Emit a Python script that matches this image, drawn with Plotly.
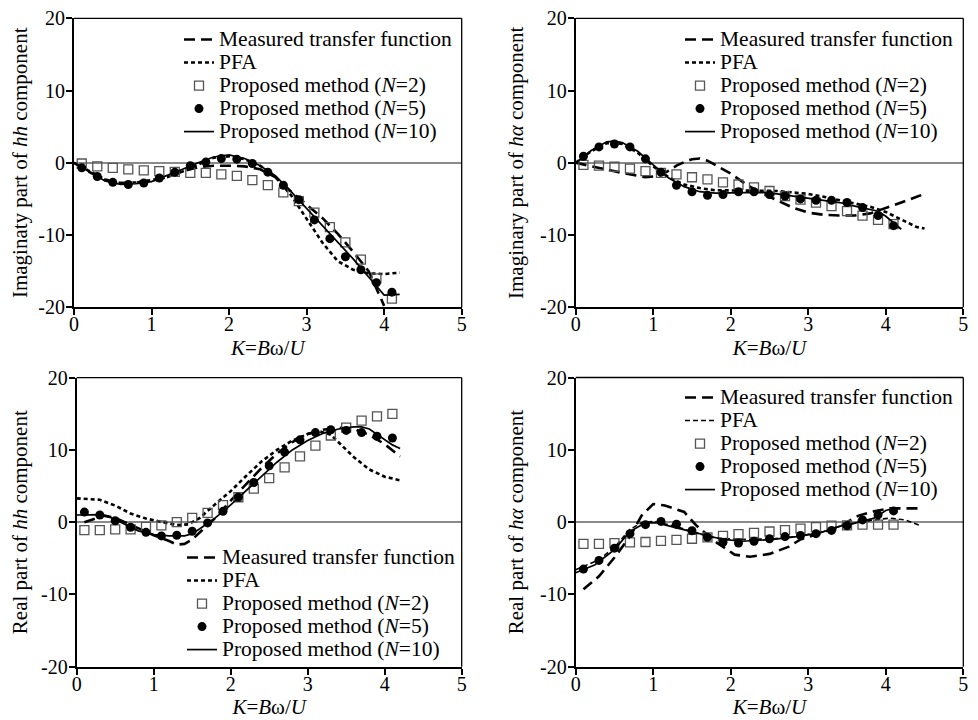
import plotly.graph_objects as go

FONT = "Liberation Serif"

# ---------------- data ----------------
k_pts = [0.1, 0.3, 0.5, 0.7, 0.9, 1.1, 1.3, 1.5, 1.7, 1.9, 2.1, 2.3, 2.5, 2.7, 2.9, 3.1, 3.3, 3.5, 3.7, 3.9, 4.1]

# Panel 1: imaginary part of hh
p1_meas_k = [0, 0.2, 0.4, 0.6, 0.8, 1.0, 1.2, 1.4, 1.6, 1.8, 2.0, 2.2, 2.4, 2.6, 2.8, 3.0, 3.2, 3.4, 3.6, 3.8, 4.0]
p1_meas = [0, -1.3, -2.4, -2.8, -2.7, -2.5, -2.0, -1.2, -0.6, -0.4, -0.4, -0.5, -0.9, -2.0, -4.0, -5.8, -7.6, -9.8, -12.3, -15.0, -19.8]
p1_pfa_k = [0, 0.2, 0.4, 0.6, 0.8, 1.0, 1.2, 1.4, 1.6, 1.8, 2.0, 2.2, 2.4, 2.6, 2.8, 3.0, 3.2, 3.4, 3.6, 3.8, 4.0, 4.2]
p1_pfa = [0, -1.2, -2.3, -2.8, -2.7, -2.4, -2.0, -1.2, -0.2, 0.7, 0.9, 0.5, -0.4, -2.0, -4.5, -7.8, -11.0, -13.6, -14.8, -15.3, -15.4, -15.2]
p1_n2 = [-0.1, -0.5, -0.7, -0.9, -1.05, -1.15, -1.25, -1.4, -1.4, -1.6, -1.8, -2.4, -3.1, -4.1, -5.3, -6.9, -8.9, -11.0, -13.4, -16.0, -18.8]
p1_n5 = [-0.7, -1.9, -2.7, -3.0, -2.8, -2.1, -1.3, -0.4, 0.1, 0.6, 0.5, -0.1, -1.3, -3.1, -5.1, -7.9, -10.5, -13.0, -14.8, -16.6, -17.9]
p1_n10_k = [0, 0.2, 0.4, 0.6, 0.8, 1.0, 1.2, 1.4, 1.6, 1.8, 2.0, 2.2, 2.4, 2.6, 2.8, 3.0, 3.2, 3.4, 3.6, 3.8, 4.0, 4.2]
p1_n10 = [0, -1.3, -2.5, -3.0, -2.9, -2.6, -1.8, -0.9, 0.0, 0.8, 1.1, 0.6, -0.4, -1.8, -4.0, -6.3, -8.7, -11.0, -13.3, -15.8, -18.3, -18.2]

# Panel 2: imaginary part of h-alpha
p2_meas_k = [0, 0.2, 0.4, 0.6, 0.8, 0.9, 1.0, 1.1, 1.2, 1.3, 1.4, 1.5, 1.6, 1.7, 1.8, 2.0, 2.2, 2.4, 2.6, 2.8, 3.0, 3.2, 3.4, 3.6, 3.8, 4.0, 4.2, 4.4, 4.5]
p2_meas = [0, -0.5, -1.0, -1.4, -1.8, -2.0, -1.9, -1.7, -1.1, -0.4, 0.1, 0.5, 0.6, 0.3, -0.3, -1.5, -3.0, -4.2, -5.2, -6.2, -6.9, -7.2, -7.3, -7.3, -7.0, -6.3, -5.5, -4.7, -4.3]
p2_pfa_k = [0, 0.2, 0.4, 0.5, 0.6, 0.8, 1.0, 1.2, 1.4, 1.6, 1.8, 2.0, 2.2, 2.4, 2.6, 2.8, 3.0, 3.2, 3.4, 3.6, 3.8, 4.0, 4.2, 4.4, 4.5]
p2_pfa = [0, 1.6, 2.7, 2.8, 2.6, 1.4, -0.5, -2.0, -3.0, -3.5, -3.8, -3.8, -3.8, -3.8, -3.9, -4.1, -4.3, -4.7, -5.2, -5.7, -6.1, -6.8, -7.9, -8.9, -9.1]
p2_n2 = [-0.3, -0.4, -0.55, -0.8, -1.15, -1.4, -1.6, -2.0, -2.3, -2.7, -3.0, -3.4, -3.9, -4.6, -5.1, -5.5, -6.0, -6.7, -7.3, -7.9, -8.5]
p2_n5 = [0.9, 2.2, 2.6, 2.2, 0.55, -1.3, -3.1, -4.0, -4.5, -4.4, -4.0, -4.0, -4.4, -4.6, -5.0, -5.2, -5.2, -5.5, -6.2, -7.3, -8.7]
p2_n10_k = [0, 0.2, 0.4, 0.5, 0.6, 0.8, 1.0, 1.2, 1.4, 1.6, 1.8, 2.0, 2.2, 2.4, 2.6, 2.8, 3.0, 3.2, 3.4, 3.6, 3.8, 3.9, 4.0, 4.1, 4.2]
p2_n10 = [0, 1.7, 2.9, 3.0, 2.8, 1.6, -0.3, -2.1, -3.3, -4.0, -4.2, -4.2, -4.1, -4.1, -4.3, -4.6, -4.8, -5.1, -5.5, -6.0, -6.4, -6.7, -7.4, -8.3, -9.2]

# Panel 3: real part of hh
p3_meas_k = [0.1, 0.2, 0.35, 0.5, 0.6, 0.8, 1.0, 1.2, 1.3, 1.4, 1.5, 1.6, 1.8, 2.0, 2.2, 2.4, 2.6, 2.8, 3.0, 3.2, 3.4, 3.6, 3.8, 4.0, 4.2]
p3_meas = [0.0, 0.4, 0.9, 0.6, 0.1, -0.9, -1.8, -2.6, -3.1, -3.0, -2.4, -1.4, 0.6, 3.0, 5.3, 7.5, 9.5, 11.1, 12.2, 12.8, 13.1, 12.9, 12.1, 10.8, 9.1]
p3_pfa_k = [0, 0.3, 0.5, 0.7, 0.9, 1.1, 1.3, 1.45, 1.6, 1.8, 2.0, 2.2, 2.4, 2.6, 2.8, 3.0, 3.15, 3.3, 3.45, 3.6, 3.8, 4.0, 4.2]
p3_pfa = [3.3, 3.1, 2.3, 1.2, 0.5, 0.1, -0.4, -0.3, 0.6, 2.5, 4.3, 6.4, 8.4, 10.0, 11.3, 12.2, 12.6, 12.1, 10.6, 9.0, 7.3, 6.3, 5.8]
p3_n2 = [-1.1, -1.1, -1.0, -1.0, -0.65, -0.45, 0.0, 0.6, 1.3, 2.35, 3.45, 4.65, 6.1, 7.6, 9.1, 10.6, 12.0, 13.1, 14.05, 14.65, 15.0]
p3_n5 = [1.4, 1.0, 0.2, -0.7, -1.4, -1.9, -1.8, -1.25, -0.1, 1.5, 3.45, 5.5, 7.8, 9.7, 11.4, 12.4, 12.8, 12.7, 12.4, 11.9, 11.65]
p3_n10_k = [0, 0.2, 0.3, 0.4, 0.6, 0.8, 1.0, 1.2, 1.4, 1.5, 1.6, 1.8, 2.0, 2.2, 2.4, 2.6, 2.8, 3.0, 3.2, 3.4, 3.6, 3.7, 3.8, 4.0, 4.1, 4.2]
p3_n10 = [1.0, 1.0, 1.05, 0.9, -0.2, -1.2, -1.7, -1.9, -1.9, -1.6, -0.9, 0.6, 2.4, 4.4, 6.4, 8.3, 10.0, 11.3, 12.3, 12.9, 13.2, 13.2, 12.9, 11.4, 10.7, 10.2]

# Panel 4: real part of h-alpha
p4_meas_k = [0.1, 0.3, 0.5, 0.7, 0.85, 1.0, 1.15, 1.4, 1.55, 1.8, 2.05, 2.25, 2.5, 2.75, 2.9, 3.2, 3.4, 3.65, 3.85, 4.05, 4.25, 4.45]
p4_meas = [-9.3, -7.5, -4.9, -2.0, 0.9, 2.5, 2.3, 1.4, -0.4, -2.7, -4.5, -4.8, -4.4, -3.4, -2.4, -1.4, -0.6, 0.9, 1.5, 1.9, 1.9, 1.9]
p4_pfa_k = [0, 0.3, 0.5, 0.7, 0.85, 1.0, 1.3, 1.55, 1.8, 2.15, 2.55, 2.85, 3.2, 3.4, 3.6, 3.85, 4.05, 4.25, 4.45]
p4_pfa = [-6.6, -5.2, -3.5, -1.0, -0.1, 0.1, -0.6, -1.5, -2.2, -2.4, -2.3, -2.0, -1.3, -0.6, -0.15, 0.3, 0.55, 0.3, -0.5]
p4_n2 = [-3.0, -3.0, -2.9, -2.8, -2.75, -2.6, -2.45, -2.3, -2.1, -1.9, -1.65, -1.5, -1.3, -1.1, -0.9, -0.7, -0.5, -0.45, -0.35, -0.35, -0.35]
p4_n5 = [-6.5, -5.3, -3.6, -1.6, -0.35, 0.1, -0.3, -1.2, -2.1, -2.8, -2.9, -2.65, -2.3, -2.0, -1.85, -1.6, -1.15, -0.5, 0.3, 1.0, 1.55]
p4_n10_k = [0, 0.25, 0.5, 0.7, 0.9, 1.05, 1.3, 1.55, 1.9, 2.15, 2.55, 2.85, 3.15, 3.4, 3.6, 3.85, 4.0, 4.1]
p4_n10 = [-7.0, -5.9, -3.8, -1.3, -0.1, -0.1, -0.8, -1.5, -2.4, -2.65, -2.4, -2.0, -1.5, -0.6, -0.15, 0.55, 1.6, 1.9]

x_ticks = [0, 1, 2, 3, 4, 5]
x_ticktext = ["0", "1", "2", "3", "4", "5"]
y_ticks = [-20, -10, 0, 10, 20]
y_ticktext = ["-20", "-10", "0", "10", "20"]

y_titles = [
    "Imaginaty part of <i>hh</i> component",
    "Imaginary part of <i>h\u03b1</i> component",
    "Real part of <i>hh</i> component",
    "Real part of <i>h\u03b1</i> component",
]
x_title = "<i>K</i>=<i>B</i>\u03c9/<i>U</i>"
legend_names = [
    "Measured transfer function",
    "PFA",
    "Proposed method (<i>N</i>=2)",
    "Proposed method (<i>N</i>=5)",
    "Proposed method (<i>N</i>=10)",
]

panels = [
    (p1_meas_k, p1_meas, p1_pfa_k, p1_pfa, p1_n2, p1_n5, p1_n10_k, p1_n10),
    (p2_meas_k, p2_meas, p2_pfa_k, p2_pfa, p2_n2, p2_n5, p2_n10_k, p2_n10),
    (p3_meas_k, p3_meas, p3_pfa_k, p3_pfa, p3_n2, p3_n5, p3_n10_k, p3_n10),
    (p4_meas_k, p4_meas, p4_pfa_k, p4_pfa, p4_n2, p4_n5, p4_n10_k, p4_n10),
]

# ---------------- layout geometry ----------------
# the page body adds an 8 px offset; positions below are screen pixels minus that offset
OFF = 8
W, H = 970, 712
dom_px = [
    ((74, 461.7), (18.3, 307.3)),
    ((575.7, 963.3), (18.3, 307.3)),
    ((76.7, 461.7), (377.7, 666.7)),
    ((575.7, 963.3), (377.5, 666.7)),
]
legend_pos = [(171, 15), (672, 15), (174, 533), (672, 373)]

fig = go.Figure()


def lname(t):
    return '<span style="font-size:21.5px">' + t + "</span>"


for i, (mk, mv, pk, pv, n2, n5, nk, nv) in enumerate(panels):
    sfx = "" if i == 0 else str(i + 1)
    xa, ya, lg = "x" + sfx, "y" + sfx, "legend" + sfx
    pfa_line = dict(color="black", width=2.6, dash="4px,3px") if i < 3 else dict(color="black", width=1.6, dash="5px,3px")
    fig.add_trace(go.Scatter(x=mk, y=mv, mode="lines", name=lname(legend_names[0]),
                             line=dict(color="black", width=2.6, dash="11px,6px"),
                             xaxis=xa, yaxis=ya, legend=lg))
    fig.add_trace(go.Scatter(x=pk, y=pv, mode="lines", name=lname(legend_names[1]),
                             line=pfa_line, xaxis=xa, yaxis=ya, legend=lg))
    fig.add_trace(go.Scatter(x=k_pts, y=n2, mode="markers", name=lname(legend_names[2]),
                             marker=dict(symbol="square-open", size=9, color="#555555", line=dict(width=1.3)),
                             xaxis=xa, yaxis=ya, legend=lg))
    fig.add_trace(go.Scatter(x=k_pts, y=n5, mode="markers", name=lname(legend_names[3]),
                             marker=dict(symbol="circle", size=9, color="black"),
                             xaxis=xa, yaxis=ya, legend=lg))
    fig.add_trace(go.Scatter(x=nk, y=nv, mode="lines", name=lname(legend_names[4]),
                             line=dict(color="black", width=1.7),
                             xaxis=xa, yaxis=ya, legend=lg))

    (x0, x1), (y0, y1) = dom_px[i]
    x0, x1, y0, y1 = x0 - OFF, x1 - OFF, y0 - OFF, y1 - OFF
    fig.update_layout(**{
        "xaxis" + sfx: dict(
            domain=[x0 / W, x1 / W], range=[0, 5], anchor=ya, automargin=False,
            tickmode="array", tickvals=x_ticks, ticktext=x_ticktext,
            ticks="outside", ticklen=6, tickwidth=1.5, tickcolor="black",
            ticklabelstandoff=-8, ticklabeloverflow="allow",
            showline=True, linewidth=2, linecolor="black",
            showgrid=False, zeroline=False,
            tickfont=dict(family=FONT, size=20, color="black"),
            title=dict(text=x_title, font=dict(family=FONT, size=21, color="black"), standoff=6),
        ),
        "yaxis" + sfx: dict(
            domain=[1 - y1 / H, 1 - y0 / H], range=[-20, 20], anchor=xa, automargin=False,
            tickmode="array", tickvals=y_ticks, ticktext=y_ticktext,
            ticks="outside", ticklen=6, tickwidth=1.5, tickcolor="black",
            ticklabelstandoff=-3, ticklabeloverflow="allow",
            showline=True, linewidth=2, linecolor="black",
            showgrid=False, zeroline=True, zerolinecolor="#8a8a8a", zerolinewidth=1.5,
            tickfont=dict(family=FONT, size=20, color="black"),
            title=dict(text=y_titles[i], font=dict(family=FONT, size=21, color="black"), standoff=11),
        ),
        lg: dict(
            x=legend_pos[i][0] / W, y=1 - legend_pos[i][1] / H, xanchor="left", yanchor="top",
            bgcolor="rgba(0,0,0,0)", borderwidth=0,
            font=dict(family=FONT, size=15.4, color="black"),
            itemwidth=30, tracegroupgap=0,
        ),
    })
    # top and right frame lines
    fig.add_shape(type="line", xref=xa + " domain", yref=ya + " domain", x0=0, x1=1, y0=1, y1=1,
                  line=dict(color="black", width=1.3))
    fig.add_shape(type="line", xref=xa + " domain", yref=ya + " domain", x0=1, x1=1, y0=0, y1=1,
                  line=dict(color="black", width=1.3))

fig.update_layout(
    width=W, height=H,
    margin=dict(l=0, r=0, t=0, b=0, autoexpand=False),
    paper_bgcolor="white", plot_bgcolor="white",
    font=dict(family=FONT, color="black"),
    showlegend=True,
)

fig.write_html("out.html")
